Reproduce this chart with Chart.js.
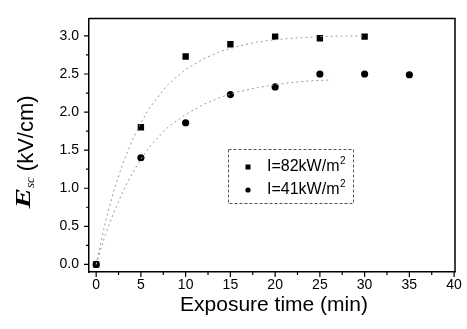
<!DOCTYPE html>
<html>
<head>
<meta charset="utf-8">
<script src="https://cdn.jsdelivr.net/npm/chart.js@4/dist/chart.umd.min.js"></script>
<style>
  html, body { margin: 0; padding: 0; background: #fff; }
  #wrap { width: 467px; height: 329px; }
</style>
</head>
<body>
<div id="wrap"><canvas id="esc" width="467" height="329"></canvas></div>
<script>
// measured points (min, kV/cm)
const time82 = [0, 5, 10, 15, 20, 25, 30];
const esc82 = [0, 1.80, 2.73, 2.89, 2.99, 2.97, 2.99];
const time41 = [0, 5, 10, 15, 20, 25, 30, 35];
const esc41 = [0, 1.40, 1.86, 2.23, 2.33, 2.50, 2.50, 2.49];

// dotted fit curves
const fitTime82 = [0, 1, 2, 3, 4, 5, 6, 8, 10, 12, 14, 16, 18, 20, 22, 25, 28, 30];
const fitEsc82 = [0, 0.54, 0.98, 1.33, 1.62, 1.86, 2.06, 2.36, 2.56, 2.70, 2.80, 2.87, 2.92, 2.95, 2.97, 2.99, 3.0, 3.0];
const fitTime41 = [0, 1, 2, 3, 4, 5, 6, 8, 10, 12, 14, 16, 18, 20, 22, 24, 26];
const fitEsc41 = [0, 0.38, 0.69, 0.96, 1.19, 1.38, 1.55, 1.80, 1.97, 2.10, 2.20, 2.27, 2.32, 2.36, 2.39, 2.41, 2.42];

const xTicks = [0, 5, 10, 15, 20, 25, 30, 35, 40];
const yTicks = [0, 0.5, 1.0, 1.5, 2.0, 2.5, 3.0];
const legendLabels = ['I=82kW/m', 'I=41kW/m'];

const SANS = '"Liberation Sans", Arial, sans-serif';
const SERIF = '"Liberation Serif", "Times New Roman", serif';

function pts(xs, ys) {
    return xs.map((x, i) => ({ x: x, y: ys[i] }));
}

// frame, tick marks, axis titles, legend box
const decorations = {
    id: 'decorations',
    afterDraw(chart) {
        const ctx = chart.ctx;
        const area = chart.chartArea;
        const xs = chart.scales.x;
        const ys = chart.scales.y;
        ctx.save();
        ctx.strokeStyle = '#000';
        ctx.lineWidth = 1.5;

        // top + right edges of the box
        ctx.beginPath();
        ctx.moveTo(area.left, area.top);
        ctx.lineTo(area.right, area.top);
        ctx.lineTo(area.right, area.bottom);
        ctx.stroke();

        // ticks (major + minor), pointing out
        ctx.lineWidth = 1.2;
        ctx.beginPath();
        xTicks.forEach((v, i) => {
            const px = xs.getPixelForValue(v);
            ctx.moveTo(px, area.bottom);
            ctx.lineTo(px, area.bottom + 5);
            if (i < xTicks.length - 1) {
                const mx = xs.getPixelForValue((v + xTicks[i + 1]) / 2);
                ctx.moveTo(mx, area.bottom);
                ctx.lineTo(mx, area.bottom + 3);
            }
        });
        yTicks.forEach((v, i) => {
            const py = ys.getPixelForValue(v);
            ctx.moveTo(area.left, py);
            ctx.lineTo(area.left - 5, py);
            if (i < yTicks.length - 1) {
                const my = ys.getPixelForValue((v + yTicks[i + 1]) / 2);
                ctx.moveTo(area.left, my);
                ctx.lineTo(area.left - 3, my);
            }
        });
        ctx.stroke();

        // x title
        ctx.fillStyle = '#000';
        ctx.font = '21px ' + SANS;
        ctx.textAlign = 'center';
        ctx.textBaseline = 'middle';
        ctx.fillText('Exposure time (min)', 274, 305);

        // y title: E_sc (kV/cm), rotated
        ctx.save();
        ctx.translate(32, 152);
        ctx.rotate(-Math.PI / 2);
        ctx.textAlign = 'left';
        ctx.textBaseline = 'alphabetic';
        ctx.font = 'italic bold 22px ' + SERIF;
        const eW = ctx.measureText('E').width * 1.4;
        ctx.font = 'italic 13px ' + SERIF;
        const sW = ctx.measureText('sc').width;
        ctx.font = '22px ' + SANS;
        const uW = ctx.measureText('(kV/cm)').width;
        const gap = 6;
        let x0 = -(eW + sW + gap + uW) / 2;
        ctx.save();
        ctx.translate(x0, -2);
        ctx.scale(1.4, 1);
        ctx.font = 'italic bold 22px ' + SERIF;
        ctx.fillText('E', 0, 0);
        ctx.restore();
        ctx.font = 'italic 13px ' + SERIF;
        ctx.fillText('sc', x0 + eW, 2);
        ctx.font = '22px ' + SANS;
        ctx.fillText('(kV/cm)', x0 + eW + sW + gap, 1);
        ctx.restore();

        // legend box
        ctx.strokeStyle = '#555';
        ctx.lineWidth = 1;
        ctx.setLineDash([3, 2]);
        ctx.strokeRect(228.5, 149.5, 125, 54);
        ctx.setLineDash([]);
        ctx.fillStyle = '#000';
        ctx.fillRect(245.5, 164.5, 5, 5);
        ctx.beginPath();
        ctx.arc(248, 190, 2.6, 0, Math.PI * 2);
        ctx.fill();
        ctx.textAlign = 'left';
        ctx.textBaseline = 'middle';
        [167, 190].forEach((y, i) => {
            ctx.font = '16px ' + SANS;
            ctx.fillText(legendLabels[i], 267, y);
            const w = ctx.measureText(legendLabels[i]).width;
            ctx.font = '10px ' + SANS;
            ctx.fillText('2', 267 + w + 0.5, y - 6);
        });
        ctx.restore();
    }
};

const fitStyle = {
    showLine: true,
    pointRadius: 0,
    borderColor: '#9a9a9a',
    borderWidth: 1,
    borderDash: [2, 3],
    fill: false,
    tension: 0
};

new Chart(document.getElementById('esc'), {
    type: 'scatter',
    data: {
        datasets: [
            Object.assign({ label: 'fit82', data: pts(fitTime82, fitEsc82) }, fitStyle),
            Object.assign({ label: 'fit41', data: pts(fitTime41, fitEsc41) }, fitStyle),
            {
                label: 'I=82kW/m2',
                data: pts(time82, esc82),
                pointStyle: 'rect',
                pointRadius: 4.5,
                backgroundColor: '#000',
                borderColor: '#000',
                borderWidth: 0
            },
            {
                label: 'I=41kW/m2',
                data: pts(time41, esc41),
                pointStyle: 'circle',
                pointRadius: 3.6,
                backgroundColor: '#000',
                borderColor: '#000',
                borderWidth: 0
            }
        ]
    },
    options: {
        responsive: false,
        animation: false,
        layout: { padding: { top: 12, right: 12, left: 0, bottom: 0 } },
        plugins: { legend: { display: false }, tooltip: { enabled: false } },
        scales: {
            x: {
                type: 'linear',
                min: -0.8,
                max: 40.1,
                afterBuildTicks: s => { s.ticks = xTicks.map(v => ({ value: v })); },
                afterFit: s => { s.height = 57; },
                grid: { display: false, drawTicks: false },
                border: { display: true, color: '#000', width: 1.5 },
                ticks: {
                    color: '#000',
                    font: { family: SANS, size: 14 },
                    padding: 5,
                    maxRotation: 0,
                    callback: v => String(v)
                }
            },
            y: {
                type: 'linear',
                min: -0.1,
                max: 3.23,
                afterBuildTicks: s => { s.ticks = yTicks.map(v => ({ value: v })); },
                afterFit: s => { s.width = 89; },
                grid: { display: false, drawTicks: false },
                border: { display: true, color: '#000', width: 1.5 },
                ticks: {
                    color: '#000',
                    font: { family: SANS, size: 14 },
                    padding: 10,
                    callback: v => v.toFixed(1)
                }
            }
        }
    },
    plugins: [decorations]
});
</script>
</body>
</html>
